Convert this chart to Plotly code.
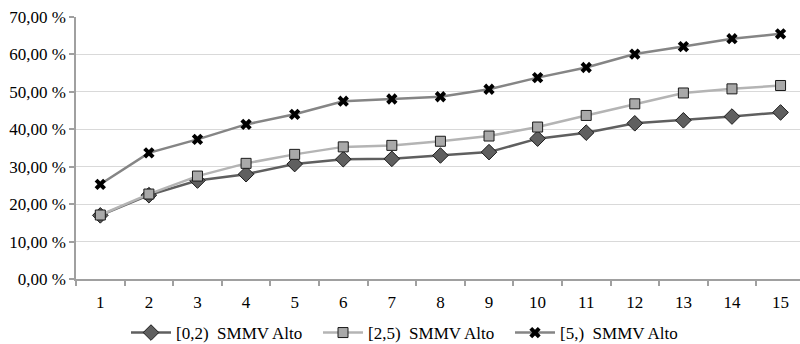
import plotly.graph_objects as go

categories = list(range(1, 16))
s_02 = [17.0, 22.4, 26.3, 28.0, 30.7, 32.0, 32.1, 33.0, 33.9, 37.5, 39.1, 41.6, 42.4, 43.4, 44.5]
s_25 = [17.1, 22.7, 27.5, 30.9, 33.3, 35.3, 35.7, 36.8, 38.2, 40.6, 43.7, 46.8, 49.7, 50.8, 51.7]
s_5 = [25.3, 33.7, 37.3, 41.3, 44.0, 47.5, 48.1, 48.7, 50.7, 53.8, 56.5, 60.1, 62.1, 64.2, 65.5]
names = ["[0,2)\u00a0 SMMV Alto", "[2,5)\u00a0 SMMV Alto", "[5,)\u00a0 SMMV Alto"]
y_ticks = [0, 10, 20, 30, 40, 50, 60, 70]
y_labels = ["0,00 %", "10,00 %", "20,00 %", "30,00 %", "40,00 %", "50,00 %", "60,00 %", "70,00 %"]

FONT = "Liberation Serif"
fig = go.Figure()
fig.add_trace(go.Scatter(x=categories, y=s_02, name=names[0], mode="lines+markers",
                         line=dict(color="#5f5f5f", width=2.5),
                         marker=dict(symbol="diamond", size=12, color="#5f5f5f",
                                     line=dict(color="#1a1a1a", width=1))))
fig.add_trace(go.Scatter(x=categories, y=s_25, name=names[1], mode="lines+markers",
                         line=dict(color="#b4b4b4", width=2.5),
                         marker=dict(symbol="square", size=10, color="#a9a9a9",
                                     line=dict(color="#1a1a1a", width=1))))
fig.add_trace(go.Scatter(x=categories, y=s_5, name=names[2], mode="lines+markers",
                         line=dict(color="#858585", width=2.5),
                         marker=dict(symbol="x", size=10, color="#000000",
                                     line=dict(width=0))))

fig.update_layout(
    width=800, height=344,
    margin=dict(l=76, r=0, t=17, b=65, autoexpand=False),
    plot_bgcolor="white", paper_bgcolor="white",
    font=dict(family=FONT, size=17, color="#000000"),
    showlegend=True,
    legend=dict(orientation="h", xref="container", x=126 / 800, xanchor="left",
                yref="container", y=1 - 333 / 344, yanchor="middle",
                entrywidth=137, entrywidthmode="pixels",
                font=dict(family=FONT, size=17), itemwidth=40),
    xaxis=dict(range=[0.5, 15.4], tickvals=categories, ticktext=[str(c) for c in categories],
               ticks="", showgrid=False, showline=True, linecolor="#a0a0a0", linewidth=1.5,
               zeroline=False, tickfont=dict(family=FONT, size=17), automargin=False,
               ticklabelstandoff=7,
               minor=dict(ticks="outside", tick0=0.5, dtick=1, ticklen=5,
                          tickcolor="#a0a0a0", tickwidth=1.5, showgrid=False)),
    yaxis=dict(range=[0, 70], tickvals=y_ticks, ticktext=y_labels,
               showgrid=True, gridcolor="#d9d9d9", gridwidth=1,
               showline=True, linecolor="#a0a0a0", linewidth=1.5,
               ticks="outside", ticklen=5, tickcolor="#a0a0a0", tickwidth=1.5,
               zeroline=False, tickfont=dict(family=FONT, size=17), automargin=False,
               ticklabelstandoff=0),
)
fig.write_html("out.html", config={"displayModeBar": False},
               post_script="document.body.style.margin='0';document.body.style.padding='0';")
